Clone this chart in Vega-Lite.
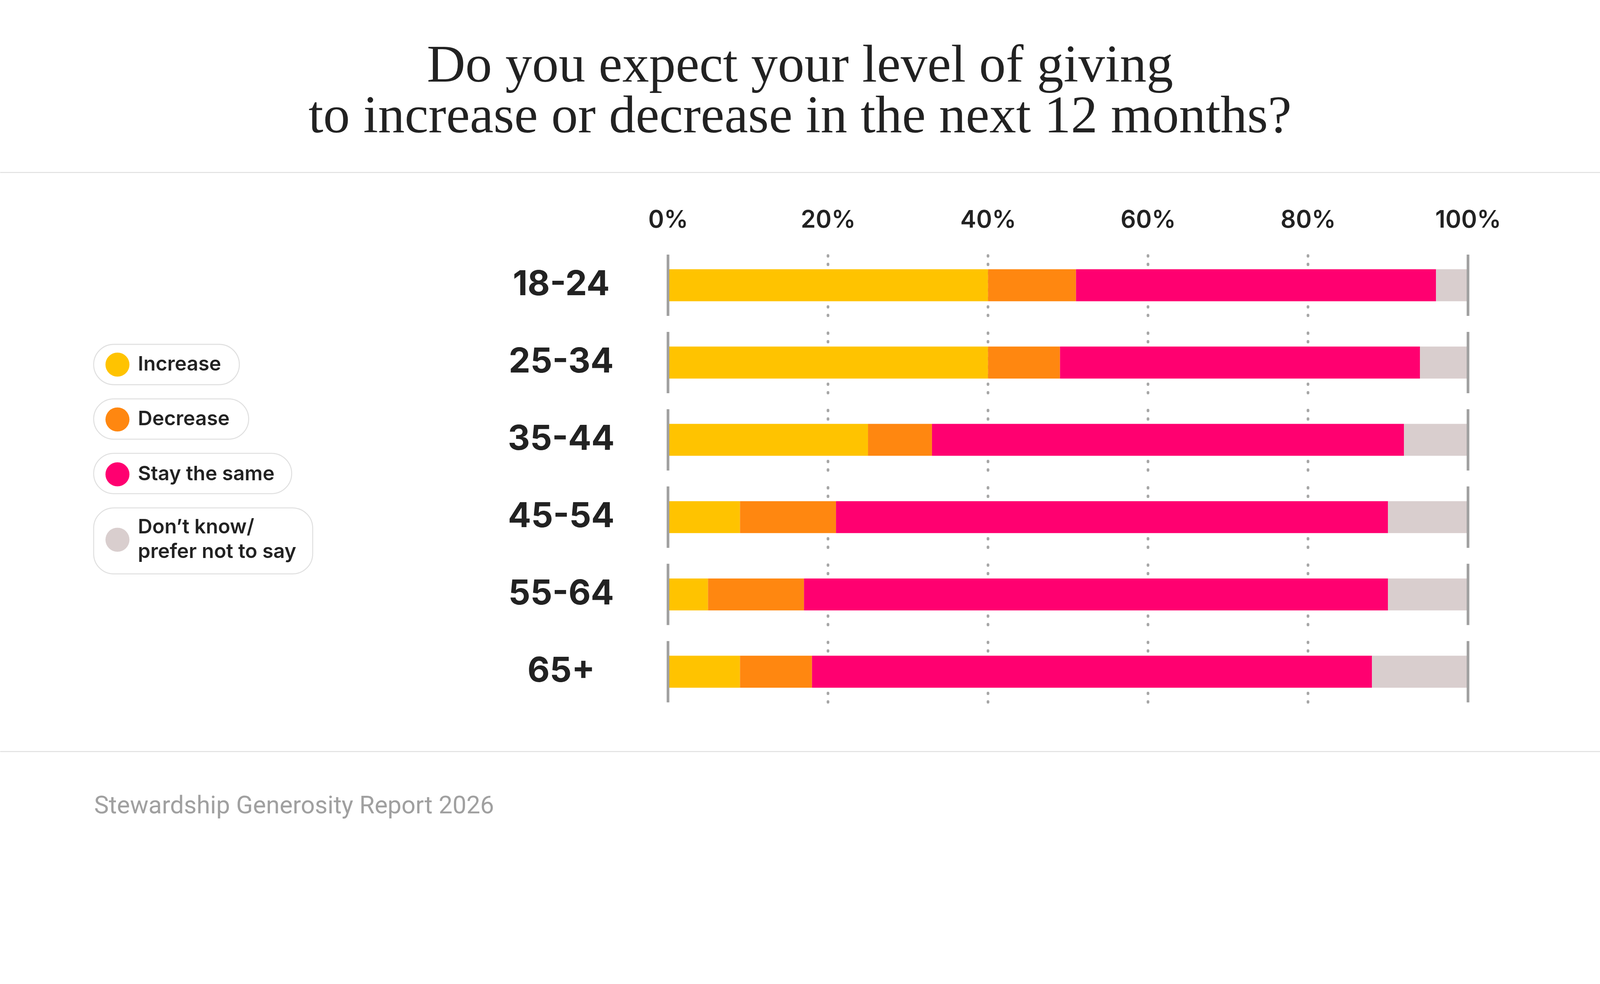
{
  "$schema": "https://vega.github.io/schema/vega-lite/v6.json",
  "width": 4096,
  "height": 1146.88,
  "autosize": {"type": "none"},
  "padding": {"left": 0, "right": 0, "top": 651.95, "bottom": 351.17},
  "background": "white",
  "config": {"view": {"stroke": null}, "font": "Inter"},
  "title": {
    "text": ["Do you expect your level of giving", "to increase or decrease in the next 12 months?"],
    "font": "Liberation Serif",
    "fontSize": 136.5,
    "fontWeight": 400,
    "color": "#222222",
    "lineHeight": 129.7,
    "anchor": "middle",
    "frame": "group",
    "baseline": "alphabetic",
    "offset": -34.4
  },
  "data": {
    "values": [
      {"age": "18-24", "response": "Increase", "value": 40},
      {"age": "18-24", "response": "Decrease", "value": 11},
      {"age": "18-24", "response": "Stay the same", "value": 45},
      {"age": "18-24", "response": "Don’t know/prefer not to say", "value": 4},
      {"age": "25-34", "response": "Increase", "value": 40},
      {"age": "25-34", "response": "Decrease", "value": 9},
      {"age": "25-34", "response": "Stay the same", "value": 45},
      {"age": "25-34", "response": "Don’t know/prefer not to say", "value": 6},
      {"age": "35-44", "response": "Increase", "value": 25},
      {"age": "35-44", "response": "Decrease", "value": 8},
      {"age": "35-44", "response": "Stay the same", "value": 59},
      {"age": "35-44", "response": "Don’t know/prefer not to say", "value": 8},
      {"age": "45-54", "response": "Increase", "value": 9},
      {"age": "45-54", "response": "Decrease", "value": 12},
      {"age": "45-54", "response": "Stay the same", "value": 69},
      {"age": "45-54", "response": "Don’t know/prefer not to say", "value": 10},
      {"age": "55-64", "response": "Increase", "value": 5},
      {"age": "55-64", "response": "Decrease", "value": 12},
      {"age": "55-64", "response": "Stay the same", "value": 73},
      {"age": "55-64", "response": "Don’t know/prefer not to say", "value": 10},
      {"age": "65+", "response": "Increase", "value": 9},
      {"age": "65+", "response": "Decrease", "value": 9},
      {"age": "65+", "response": "Stay the same", "value": 70},
      {"age": "65+", "response": "Don’t know/prefer not to say", "value": 12}
    ]
  },
  "resolve": {"axis": {"x": "independent"}},
  "layer": [
    {
      "transform": [{"filter": "datum.response === 'Increase'"}],
      "mark": {"type": "rule", "color": "#a6a6a6", "strokeWidth": 6.83, "strokeCap": "round", "strokeDash": [1.7, 20.06], "strokeDashOffset": 19.2},
      "encoding": {
        "x": {"datum": 20, "type": "quantitative", "axis": null},
        "y": {"field": "age", "type": "nominal", "sort": null, "bandPosition": 0},
        "y2": {"field": "age", "bandPosition": 1}
      }
    },
    {
      "transform": [{"filter": "datum.response === 'Increase'"}],
      "mark": {"type": "rule", "color": "#a6a6a6", "strokeWidth": 6.83, "strokeCap": "round", "strokeDash": [1.7, 20.06], "strokeDashOffset": 19.2},
      "encoding": {
        "x": {"datum": 40, "type": "quantitative", "axis": null},
        "y": {"field": "age", "type": "nominal", "sort": null, "bandPosition": 0},
        "y2": {"field": "age", "bandPosition": 1}
      }
    },
    {
      "transform": [{"filter": "datum.response === 'Increase'"}],
      "mark": {"type": "rule", "color": "#a6a6a6", "strokeWidth": 6.83, "strokeCap": "round", "strokeDash": [1.7, 20.06], "strokeDashOffset": 19.2},
      "encoding": {
        "x": {"datum": 60, "type": "quantitative", "axis": null},
        "y": {"field": "age", "type": "nominal", "sort": null, "bandPosition": 0},
        "y2": {"field": "age", "bandPosition": 1}
      }
    },
    {
      "transform": [{"filter": "datum.response === 'Increase'"}],
      "mark": {"type": "rule", "color": "#a6a6a6", "strokeWidth": 6.83, "strokeCap": "round", "strokeDash": [1.7, 20.06], "strokeDashOffset": 19.2},
      "encoding": {
        "x": {"datum": 80, "type": "quantitative", "axis": null},
        "y": {"field": "age", "type": "nominal", "sort": null, "bandPosition": 0},
        "y2": {"field": "age", "bandPosition": 1}
      }
    },
    {
      "transform": [
        {"calculate": "indexof(['Increase', 'Decrease', 'Stay the same', 'Don’t know/prefer not to say'], datum.response)", "as": "stackOrder"}
      ],
      "mark": {"type": "bar", "height": {"band": 0.5217}},
      "encoding": {
        "y": {
          "field": "age",
          "type": "nominal",
          "sort": null,
          "scale": {"paddingInner": 0.206897, "paddingOuter": 0},
          "axis": {
            "orient": "left",
            "offset": -1436.2,
            "labelPadding": 0,
            "ticks": false,
            "tickSize": 0,
            "domain": false,
            "grid": false,
            "labelAlign": "center",
            "labelBaseline": "middle",
            "labelFont": "Inter",
            "labelFontSize": 88,
            "labelFontWeight": 700,
            "labelColor": "#222222",
            "labelLimit": 0,
            "title": "Stewardship Generosity Report 2026",
            "titleAngle": 0,
            "titleAlign": "left",
            "titleBaseline": "alphabetic",
            "titleX": -1195.6,
            "titleY": 1431,
            "titleFont": "Roboto",
            "titleFontSize": 63.1,
            "titleFontWeight": 400,
            "titleColor": "#a0a0a0"
          }
        },
        "x": {
          "field": "value",
          "type": "quantitative",
          "stack": "zero",
          "scale": {"domain": [-83.5, 116.5], "nice": false, "zero": false},
          "axis": {
            "orient": "top",
            "values": [0, 20, 40, 60, 80, 100],
            "labelExpr": "datum.value + '%'",
            "grid": false,
            "ticks": false,
            "tickSize": 0,
            "domain": true,
            "domainColor": "#e0e0e0",
            "domainWidth": 2.56,
            "offset": 210.75,
            "labelPadding": -140.8,
            "labelFont": "Inter",
            "labelFontSize": 61.4,
            "labelFontWeight": 600,
            "labelColor": "#222222",
            "labelBaseline": "alphabetic",
            "labelAlign": "center",
            "labelFlush": false,
            "labelOverlap": false,
            "labelBound": false,
            "title": null
          }
        },
        "order": {"field": "stackOrder", "type": "quantitative"},
        "color": {
          "field": "response",
          "type": "nominal",
          "sort": ["Increase", "Decrease", "Stay the same", "Don’t know/prefer not to say"],
          "scale": {
            "domain": ["Increase", "Decrease", "Stay the same", "Don’t know/prefer not to say"],
            "range": ["#FFC300", "#FF8710", "#FF0070", "#D9CECE"]
          },
          "legend": {
            "orient": "none",
            "legendX": 269.7,
            "legendY": 250.8,
            "title": null,
            "direction": "vertical",
            "padding": 0,
            "symbolType": "circle",
            "symbolSize": 3775,
            "symbolStrokeWidth": 0,
            "symbolOpacity": 1,
            "labelFont": "Inter",
            "labelFontSize": 51.2,
            "labelFontWeight": 600,
            "labelColor": "#222222",
            "labelOffset": 21.3,
            "labelLimit": 2000,
            "rowPadding": 78.5,
            "labelExpr": "datum.label === 'Don’t know/prefer not to say' ? ['Don’t know/', 'prefer not to say'] : datum.label",
            "encoding": {
              "labels": {
                "lineHeight": {"value": 63.1},
                "dy": {"value": {"expr": "datum.value === 'Don’t know/prefer not to say' ? -31.6 : 0"}}
              }
            }
          }
        }
      }
    },
    {
      "transform": [{"filter": "datum.response === 'Increase'"}],
      "mark": {"type": "rule", "color": "#a0a0a0", "strokeWidth": 6.83},
      "encoding": {
        "x": {
          "datum": 0,
          "type": "quantitative",
          "axis": {
            "orient": "bottom",
            "offset": 125.5,
            "domain": true,
            "domainColor": "#e0e0e0",
            "domainWidth": 2.56,
            "labels": false,
            "ticks": false,
            "grid": false,
            "title": null
          }
        },
        "y": {"field": "age", "type": "nominal", "sort": null, "bandPosition": 0},
        "y2": {"field": "age", "bandPosition": 1}
      }
    },
    {
      "transform": [{"filter": "datum.response === 'Increase'"}],
      "mark": {"type": "rule", "color": "#a0a0a0", "strokeWidth": 6.83},
      "encoding": {
        "x": {"datum": 100, "type": "quantitative", "axis": null},
        "y": {"field": "age", "type": "nominal", "sort": null, "bandPosition": 0},
        "y2": {"field": "age", "bandPosition": 1}
      }
    },
    {
      "data": {
        "values": [
          {"option": "Increase"},
          {"option": "Decrease"},
          {"option": "Stay the same"},
          {"option": "Don’t know/prefer not to say"}
        ]
      },
      "mark": {"type": "point", "opacity": 0, "filled": false, "color": "#e0e0e0"},
      "encoding": {
        "shape": {
          "field": "option",
          "type": "nominal",
          "sort": null,
          "scale": {
            "range": [
              "M -0.174 -1 L 5.05 -1 A 1 1 0 0 1 5.05 1 L -0.174 1 A 1 1 0 0 1 -0.174 -1 Z",
              "M -0.174 -1 L 5.512 -1 A 1 1 0 0 1 5.512 1 L -0.174 1 A 1 1 0 0 1 -0.174 -1 Z",
              "M -0.174 -1 L 7.645 -1 A 1 1 0 0 1 7.645 1 L -0.174 1 A 1 1 0 0 1 -0.174 -1 Z",
              "M -0.174 -1.636 L 8.686 -1.636 A 1 1 0 0 1 9.686 -0.636 L 9.686 0.636 A 1 1 0 0 1 8.686 1.636 L -0.174 1.636 A 1 1 0 0 1 -1.174 0.636 L -1.174 -0.636 A 1 1 0 0 1 -0.174 -1.636 Z"
            ]
          },
          "legend": {
            "orient": "none",
            "legendX": 247.4,
            "legendY": 228.55,
            "title": null,
            "direction": "vertical",
            "padding": 0,
            "symbolSize": 10661,
            "symbolStrokeWidth": 2.56,
            "symbolStrokeColor": "#e0e0e0",
            "symbolFillColor": "transparent",
            "symbolOpacity": 1,
            "labelOpacity": 0,
            "labelFontSize": 1,
            "rowPadding": 25.6
          }
        }
      }
    }
  ]
}
